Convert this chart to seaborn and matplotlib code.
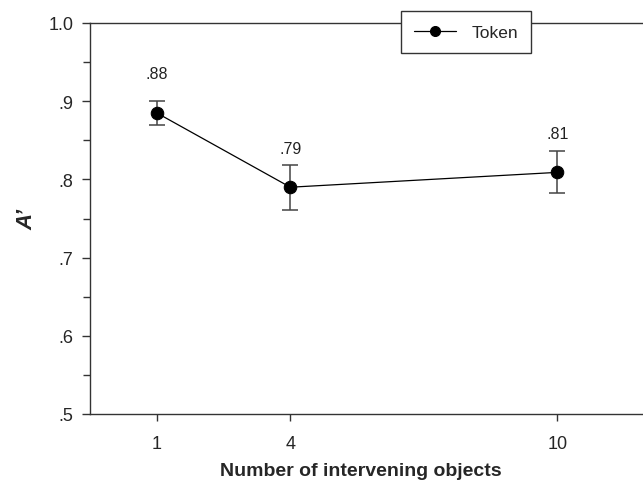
import matplotlib
matplotlib.use("Agg")
import matplotlib.pyplot as plt
import seaborn as sns
import pandas as pd
from matplotlib.ticker import MultipleLocator, FixedLocator

sns.set_style("ticks")
plt.rcParams['font.family'] = ['Liberation Sans', 'DejaVu Sans']

# Data
n_objects = [1, 4, 10]
a_prime = [0.885, 0.790, 0.809]
sem = [0.015, 0.029, 0.027]
value_labels = [".88", ".79", ".81"]
y_ticks = [0.5, 0.6, 0.7, 0.8, 0.9, 1.0]
y_tick_labels = [".5", ".6", ".7", ".8", ".9", "1.0"]

df = pd.DataFrame({"n": n_objects, "a": a_prime, "condition": ["Token"] * 3})

fig = plt.figure(figsize=(6.43, 4.89), dpi=100)
ax = fig.add_axes([90 / 643, 1 - 415 / 489, 1 - 90 / 643 + 0.002, (415 - 24) / 489])

ax.errorbar(n_objects, a_prime, yerr=sem, fmt='none', ecolor='#444444',
            elinewidth=1.1, capsize=5.5, capthick=1.1, zorder=2)
sns.lineplot(data=df, x="n", y="a", hue="condition", palette=["black"],
             marker="o", markersize=9, linewidth=0.9, markeredgecolor="black",
             ax=ax, zorder=3)

for x, y, e, lab in zip(n_objects, a_prime, sem, value_labels):
    ax.text(x, y + 0.05, lab, ha='center', va='center', fontsize=11.5, color='#222222')

ax.set_xlim(-0.5, 11.95)
ax.set_ylim(0.5, 1.0)
ax.xaxis.set_major_locator(FixedLocator(n_objects))
ax.set_xticklabels([str(v) for v in n_objects])
ax.set_yticks(y_ticks)
ax.set_yticklabels(y_tick_labels)
ax.yaxis.set_minor_locator(MultipleLocator(0.05))

for s in ["left", "top", "bottom"]:
    ax.spines[s].set_color('#333333')
    ax.spines[s].set_linewidth(1.0)
ax.spines["right"].set_visible(False)

ax.tick_params(axis='y', which='major', direction='out', length=6, width=1, color='#333333',
               labelsize=13, pad=6)
ax.tick_params(axis='y', which='minor', direction='out', length=5, width=1, color='#333333')
ax.tick_params(axis='x', which='major', direction='out', length=5, width=1, color='#333333',
               labelsize=13, pad=10)

ax.set_xlabel("Number of intervening objects", fontsize=14, fontweight='bold')
ax.set_ylabel("A\u2019", fontsize=16, fontweight='bold', style='italic')
ax.xaxis.set_label_coords(0.488, -0.124)
ax.yaxis.set_label_coords(-0.094, 0.5)

handles, labels = ax.get_legend_handles_labels()
leg = ax.legend(handles, labels, loc='center', bbox_to_anchor=(466 / 643, 1 - 33 / 489),
                bbox_transform=fig.transFigure, frameon=True, fancybox=False,
                fontsize=12.5, handlelength=2.4, borderpad=0.75, handletextpad=0.9,
                markerscale=0.8)
leg.get_frame().set_edgecolor('#333333')
leg.get_frame().set_linewidth(1.0)
leg.get_frame().set_facecolor('white')
leg.get_frame().set_alpha(1.0)
leg.set_zorder(10)
leg.set_title(None)

fig.savefig("out.png", dpi=100)
